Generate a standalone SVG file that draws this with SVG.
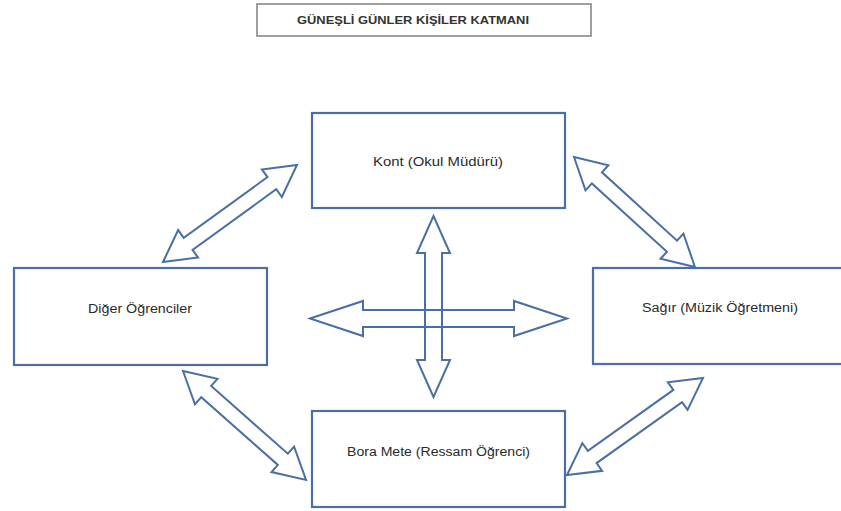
<svg xmlns="http://www.w3.org/2000/svg" width="841" height="511" viewBox="0 0 841 511">
  <style>
    .box { fill: #ffffff; stroke: #4a6fa5; stroke-width: 2.2; }
    .title-box { fill: #ffffff; stroke: #808080; stroke-width: 1.5; }
    .label { font-family: "Liberation Sans", "Noto Sans", Arial, sans-serif; font-size: 12.5px; fill: #2a2a2a; text-anchor: middle; }
    .title { font-family: "Liberation Sans", Arial, sans-serif; font-size: 10.5px; font-weight: bold; fill: #333333; text-anchor: middle; }
    .arrow { fill: #ffffff; stroke: #4a6fa5; stroke-width: 2; stroke-linejoin: miter; }
    .cross { fill: none; stroke: #4a6fa5; stroke-width: 2; }
  </style>
  <rect width="841" height="511" fill="#ffffff"/>

  <!-- heading -->
  <g id="title">
    <rect class="title-box" x="257" y="4" width="334" height="32"/>
    <text class="title" x="413" y="24" textLength="232" lengthAdjust="spacingAndGlyphs">GÜNEŞLİ GÜNLER KİŞİLER KATMANI</text>
  </g>

  <!-- people -->
  <g id="kont">
    <rect class="box" x="312" y="113" width="253" height="95"/>
    <text class="label" x="438" y="166" textLength="130" lengthAdjust="spacingAndGlyphs">Kont (Okul Müdürü)</text>
  </g>
  <g id="diger">
    <rect class="box" x="14" y="268" width="253" height="97"/>
    <text class="label" x="140" y="313" textLength="104" lengthAdjust="spacingAndGlyphs">Diğer Öğrenciler</text>
  </g>
  <g id="sagir">
    <rect class="box" x="593" y="268" width="252" height="96"/>
    <text class="label" x="720" y="312" textLength="156" lengthAdjust="spacingAndGlyphs">Sağır (Müzik Öğretmeni)</text>
  </g>
  <g id="bora">
    <rect class="box" x="312" y="411" width="253" height="96"/>
    <text class="label" x="438.5" y="456" textLength="183" lengthAdjust="spacingAndGlyphs">Bora Mete (Ressam Öğrenci)</text>
  </g>

  <!-- double block arrows between people -->
  <g id="connectors">
    <!-- Kont <-> Diğer Öğrenciler -->
    <path class="arrow" transform="translate(163 262) rotate(-35.9)"
          d="M0,0 L31,-17 L31,-7.5 L134.4,-7.5 L134.4,-17 L165.4,0 L134.4,17 L134.4,7.5 L31,7.5 L31,17 Z"/>
    <!-- Kont <-> Sağır -->
    <path class="arrow" transform="translate(574 157) rotate(42.3)"
          d="M0,0 L31,-17 L31,-7.5 L132.5,-7.5 L132.5,-17 L163.5,0 L132.5,17 L132.5,7.5 L31,7.5 L31,17 Z"/>
    <!-- Diğer Öğrenciler <-> Bora Mete -->
    <path class="arrow" transform="translate(183 371) rotate(41.5)"
          d="M0,0 L31,-17 L31,-7.5 L133.3,-7.5 L133.3,-17 L164.3,0 L133.3,17 L133.3,7.5 L31,7.5 L31,17 Z"/>
    <!-- Bora Mete <-> Sağır -->
    <path class="arrow" transform="translate(567 475) rotate(-35.5)"
          d="M0,0 L31,-17 L31,-7.5 L136,-7.5 L136,-17 L167,0 L136,17 L136,7.5 L31,7.5 L31,17 Z"/>

    <!-- central cross -->
    <path class="cross" transform="translate(310 318.5)"
          d="M0,0 L53,-17.5 L53,-8.5 L204,-8.5 L204,-17.5 L257,0 L204,17.5 L204,8.5 L53,8.5 L53,17.5 Z"/>
    <path class="cross" transform="translate(433.5 216) rotate(90)"
          d="M0,0 L37,-16.5 L37,-8.5 L144,-8.5 L144,-16.5 L181,0 L144,16.5 L144,8.5 L37,8.5 L37,16.5 Z"/>
  </g>
</svg>
